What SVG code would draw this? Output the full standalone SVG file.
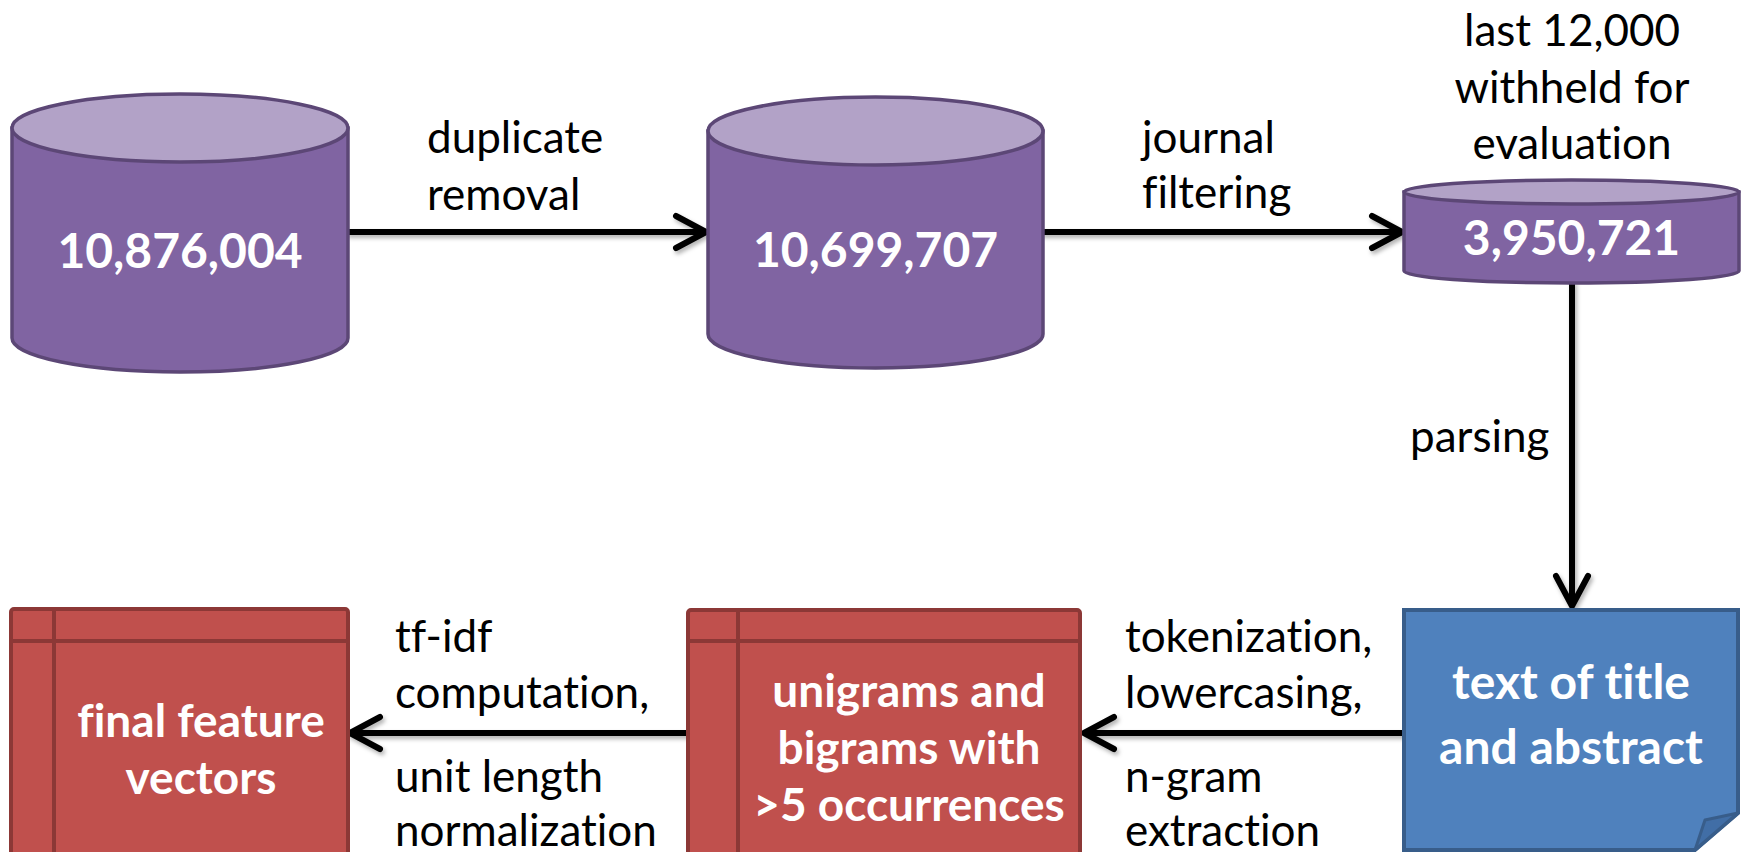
<svg xmlns="http://www.w3.org/2000/svg" width="1747" height="852" viewBox="0 0 1747 852">
<defs>
<filter id="sh" x="-5%" y="-50%" width="110%" height="200%">
<feDropShadow dx="2" dy="3" stdDeviation="2" flood-color="#000" flood-opacity="0.3"/>
</filter>
<style>
.body{fill:#8064A2;stroke:#5C4776;stroke-width:3.5}
.top{fill:#B2A2C7;stroke:#5C4776;stroke-width:3.5}
.red{fill:#C0504D;stroke:#8C3836;stroke-width:4}
.redline{stroke:#8C3836;stroke-width:4;fill:none}
.blue{fill:#4F81BD;stroke:#385D8A;stroke-width:4}
.fold{fill:#416EA6;stroke:#385D8A;stroke-width:3;stroke-linejoin:round}
text{font-family:Lato,"Liberation Sans",sans-serif;font-variant-ligatures:none;font-feature-settings:"liga" 0,"dlig" 0}
.nt{font-weight:bold;font-size:48px;fill:#fff;text-anchor:middle}
.rt{font-size:46px}
.lb{font-size:44px;fill:#000}
.c{text-anchor:middle}
.ar{stroke:#000;stroke-width:6;fill:none;stroke-linecap:round;stroke-linejoin:round}
</style>
</defs>

<g id="connectors" filter="url(#sh)">
<path class="ar" d="M348,232 H705 M676,216 L706,232 L676,248"/>
<path class="ar" d="M1043,232 H1401 M1372,216 L1402,232 L1372,248"/>
<path class="ar" d="M1572,283 V605 M1556,576 L1572,606 L1588,576"/>
<path class="ar" d="M1404,733 H1085 M1114,717 L1084,733 L1114,749"/>
<path class="ar" d="M688,733 H351 M380,717 L350,733 L380,749"/>
</g>

<g id="db1">
<path class="body" d="M12,128 V338 A168,34 0 0 0 348,338 V128 Z"/>
<ellipse class="top" cx="180" cy="128" rx="168" ry="34"/>
<text class="nt" x="180" y="268">10,876,004</text>
</g>

<g id="db2">
<path class="body" d="M708,131 V334 A167.5,34 0 0 0 1043,334 V131 Z"/>
<ellipse class="top" cx="875.5" cy="131" rx="167.5" ry="34"/>
<text class="nt" x="875.5" y="267">10,699,707</text>
</g>

<g id="db3">
<path class="body" d="M1404,192 V271 A167.5,12 0 0 0 1739,271 V192 Z"/>
<ellipse class="top" cx="1571.5" cy="192" rx="167.5" ry="12"/>
<text class="nt" x="1571.5" y="255">3,950,721</text>
</g>

<g id="text-doc">
<path class="blue" d="M1404,610 H1738 V813 L1695,850 H1404 Z"/>
<path class="fold" d="M1695,850 L1705,820 L1738,813 Z"/>
<text class="nt" x="1571" y="699">text of title</text>
<text class="nt" x="1571" y="764">and abstract</text>
</g>

<g id="ngrams">
<rect class="red" x="688" y="610" width="392" height="260" rx="3"/>
<path class="redline" d="M688,641 H1080 M738,610 V870"/>
<text class="nt rt" x="909" y="707">unigrams and</text>
<text class="nt rt" x="909" y="764">bigrams with</text>
<text class="nt rt" x="909" y="821">&gt;5 occurrences</text>
</g>

<g id="features">
<rect class="red" x="11" y="609" width="337" height="260" rx="3"/>
<path class="redline" d="M11,641 H348 M54,609 V869"/>
<text class="nt rt" x="201" y="737">final feature</text>
<text class="nt rt" x="201" y="794">vectors</text>
</g>

<g id="labels">
<text class="lb" x="427" y="153">duplicate</text>
<text class="lb" x="427" y="210">removal</text>
<text class="lb" x="1142" y="153">journal</text>
<text class="lb" x="1142" y="208">filtering</text>
<text class="lb c" x="1572" y="46">last 12,000</text>
<text class="lb c" x="1572" y="103">withheld for</text>
<text class="lb c" x="1572" y="159">evaluation</text>
<text class="lb" x="1410" y="452">parsing</text>
<text class="lb" x="395" y="652">tf-idf</text>
<text class="lb" x="395" y="708">computation,</text>
<text class="lb" x="395" y="792">unit length</text>
<text class="lb" x="395" y="846">normalization</text>
<text class="lb" x="1125" y="652">tokenization,</text>
<text class="lb" x="1125" y="708">lowercasing,</text>
<text class="lb" x="1125" y="792">n-gram</text>
<text class="lb" x="1125" y="846">extraction</text>
</g>
</svg>
